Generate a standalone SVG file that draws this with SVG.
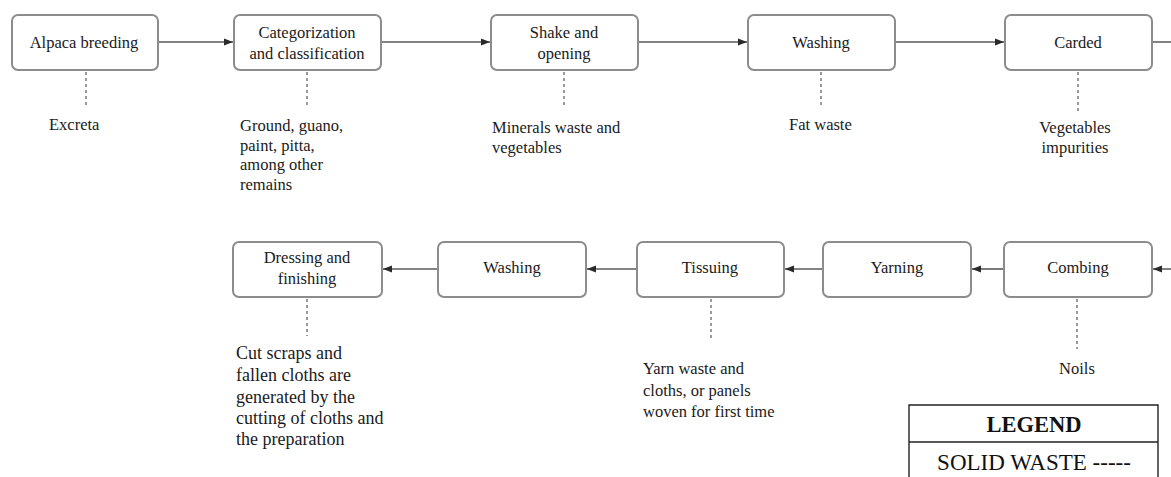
<svg xmlns="http://www.w3.org/2000/svg" width="1171" height="477" viewBox="0 0 1171 477">
  <style>
    .box { fill: #ffffff; stroke: #8c8c8c; stroke-width: 2; }
    .lbl { font-family: "Liberation Serif", "Times New Roman", serif; font-size: 16.5px; fill: #1a1a1a; text-anchor: middle; }
    .waste { font-family: "Liberation Serif", "Times New Roman", serif; font-size: 16.5px; fill: #1a1a1a; }
    .big { font-size: 18px; }
    .flow { fill: none; stroke: #5a5a5a; stroke-width: 1.6; marker-end: url(#arrow); }
    .drop { fill: none; stroke: #9a9a9a; stroke-width: 2; stroke-dasharray: 3 3; }
    .legend-frame { fill: none; stroke: #222; stroke-width: 1.4; }
  </style>
  <defs>
    <marker id="arrow" markerUnits="userSpaceOnUse" markerWidth="10" markerHeight="8" refX="9" refY="4" orient="auto">
      <path d="M0,0.5 L9,4 L0,7.5 Z" fill="#2a2a2a"/>
    </marker>
  </defs>
  <rect width="1171" height="477" fill="#ffffff"/>

  <!-- process flow -->
  <g id="connectors">
    <path class="flow" d="M158,42 H233"/>
    <path class="flow" d="M381,42 H490"/>
    <path class="flow" d="M638,42 H747"/>
    <path class="flow" d="M895,42 H1004"/>
    <path class="flow" d="M1152,42 H1195 V269 H1153"/>
    <path class="flow" d="M1004,269 H972"/>
    <path class="flow" d="M823,269 H785"/>
    <path class="flow" d="M637,269 H587"/>
    <path class="flow" d="M438,269 H383"/>
  </g>

  <!-- solid waste drops -->
  <g id="waste-lines">
    <path class="drop" d="M86,72 V107"/>
    <path class="drop" d="M307,72 V108"/>
    <path class="drop" d="M564,72 V108"/>
    <path class="drop" d="M821,72 V107"/>
    <path class="drop" d="M1078,72 V111"/>
    <path class="drop" d="M307,299 V336"/>
    <path class="drop" d="M711,299 V339"/>
    <path class="drop" d="M1077,299 V349"/>
  </g>

  <g id="alpaca-breeding">
    <rect class="box" x="12" y="15" width="146" height="55" rx="6"/>
    <text class="lbl" x="84" y="48">Alpaca  breeding</text>
    <text class="waste" x="49" y="130">Excreta</text>
  </g>

  <g id="categorization">
    <rect class="box" x="234" y="15" width="147" height="55" rx="6"/>
    <text class="lbl" x="307" y="38">Categorization</text>
    <text class="lbl" x="307" y="59">and classification</text>
    <text class="waste" x="240"><tspan x="240" y="131">Ground, guano,</tspan><tspan x="240" y="151">paint, pitta,</tspan><tspan x="240" y="170">among other</tspan><tspan x="240" y="190">remains</tspan></text>
  </g>

  <g id="shake-opening">
    <rect class="box" x="491" y="15" width="147" height="55" rx="6"/>
    <text class="lbl" x="564" y="38">Shake  and</text>
    <text class="lbl" x="564" y="59">opening</text>
    <text class="waste" x="492"><tspan x="492" y="133">Minerals waste and</tspan><tspan x="492" y="153">vegetables</tspan></text>
  </g>

  <g id="washing-1">
    <rect class="box" x="748" y="15" width="147" height="55" rx="6"/>
    <text class="lbl" x="821" y="48">Washing</text>
    <text class="waste" x="789" y="130">Fat waste</text>
  </g>

  <g id="carded">
    <rect class="box" x="1005" y="15" width="147" height="55" rx="6"/>
    <text class="lbl" x="1078" y="48">Carded</text>
    <text class="lbl" x="1075" y="133">Vegetables</text>
    <text class="lbl" x="1075" y="153">impurities</text>
  </g>

  <g id="combing">
    <rect class="box" x="1004" y="242" width="148" height="55" rx="6"/>
    <text class="lbl" x="1078" y="273">Combing</text>
    <text class="lbl" x="1077" y="374">Noils</text>
  </g>

  <g id="yarning">
    <rect class="box" x="823" y="242" width="148" height="55" rx="6"/>
    <text class="lbl" x="897" y="273">Yarning</text>
  </g>

  <g id="tissuing">
    <rect class="box" x="637" y="242" width="147" height="55" rx="6"/>
    <text class="lbl" x="710" y="273">Tissuing</text>
    <text class="waste" x="643"><tspan x="643" y="374">Yarn  waste  and</tspan><tspan x="643" y="396">cloths, or panels</tspan><tspan x="643" y="417">woven  for first time</tspan></text>
  </g>

  <g id="washing-2">
    <rect class="box" x="438" y="242" width="148" height="55" rx="6"/>
    <text class="lbl" x="512" y="273">Washing</text>
  </g>

  <g id="dressing-finishing">
    <rect class="box" x="233" y="242" width="149" height="55" rx="6"/>
    <text class="lbl" x="307" y="263">Dressing and</text>
    <text class="lbl" x="307" y="284">finishing</text>
    <text class="waste big" x="236"><tspan x="236" y="359">Cut scraps and</tspan><tspan x="236" y="381">fallen  cloths are</tspan><tspan x="236" y="403">generated by the</tspan><tspan x="236" y="424">cutting of cloths and</tspan><tspan x="236" y="445">the preparation</tspan></text>
  </g>

  <g id="legend">
    <path class="legend-frame" d="M909,480 V405 H1158 V480 M909,442 H1158"/>
    <text x="1034" y="432" text-anchor="middle" font-family="'Liberation Serif', 'Times New Roman', serif" font-size="22.5" font-weight="bold" fill="#111">LEGEND</text>
    <text x="1034" y="470" text-anchor="middle" font-family="'Liberation Serif', 'Times New Roman', serif" font-size="23" fill="#111">SOLID WASTE -----</text>
  </g>
</svg>
